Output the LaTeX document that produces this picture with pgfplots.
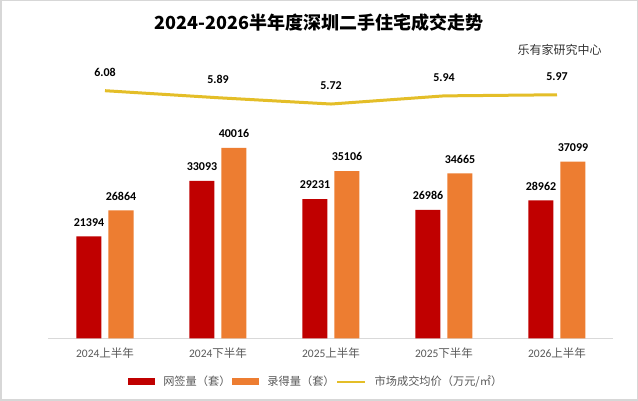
\documentclass[border=0pt]{standalone}
\usepackage{pgfplots}
\pgfplotsset{compat=1.18}
\usepackage{fontspec}
\setmainfont{Carlito}
\newfontfamily\cjk{Noto Sans CJK SC}
\definecolor{cred}{RGB}{192,0,0}
\definecolor{corange}{RGB}{237,125,49}
\definecolor{cgold}{RGB}{228,190,40}
\definecolor{caxis}{RGB}{217,217,217}
\definecolor{ctick}{RGB}{89,89,89}
\definecolor{cframe}{RGB}{215,215,215}
\pgfplotsset{
  barleg/.style={legend image code/.code={\fill[##1] (0pt,-3.5pt) rectangle (27pt,3.5pt);}},
  lineleg/.style={legend image code/.code={\draw[##1] (0pt,0pt) -- (28pt,0pt);}},
}
\begin{document}
\begin{tikzpicture}[x=1pt,y=1pt]
\path[use as bounding box, fill=white] (0,0) rectangle (638,401);
\draw[draw=cframe, line width=1.5pt] (0.75,0.75) rectangle (637.25,400.25);
\node[font=\cjk\bfseries\fontsize{18}{18}\selectfont, anchor=center] at (319,378.3) {2024-2026半年度深圳二手住宅成交走势};
\node[font=\cjk\fontsize{12}{12}\selectfont, text=black!80, anchor=east, inner sep=0pt] at (601.7,351) {乐有家研究中心};

\begin{axis}[
  at={(48.5pt,62.7pt)}, anchor=south west,
  scale only axis, width=565pt, height=278.3pt,
  xmin=-0.5, xmax=4.5, ymin=0, ymax=58466,
  ybar=7pt, bar width=25pt,
  barleg,
  axis x line=bottom, axis y line=none,
  x axis line style={draw=caxis, line width=1pt, -},
  xtick={0,1,2,3,4},
  xticklabels={2024{\cjk 上半年}, 2024{\cjk 下半年}, 2025{\cjk 上半年}, 2025{\cjk 下半年}, 2026{\cjk 上半年}},
  major tick length=0pt,
  xticklabel style={font=\fontsize{11.5}{11.5}\selectfont, text=ctick, anchor=center, yshift=-15pt},
  ytick=\empty,
  nodes near coords,
  point meta=y,
  nodes near coords style={font=\bfseries\fontsize{12}{12}\selectfont, text=black, inner sep=0pt, anchor=south, yshift=10pt,
    /pgf/number format/.cd, 1000 sep={}, assume math mode=true},
  legend style={at={(0.473,-0.156)}, anchor=center, draw=none, fill=none,
    font=\cjk\fontsize{11.2}{11.2}\selectfont, text=ctick, inner sep=0pt,
    nodes={inner sep=1.5pt},
    /tikz/every odd column/.append style={column sep=7pt}},
  legend columns=3,
  legend cell align=left,
]
\addplot[fill=cred, draw=none, bar shift=-16pt] coordinates {(0,21394) (1,33093) (2,29231) (3,26986) (4,28962)};
\addlegendentry{网签量（套）}
\addplot[fill=corange, draw=none, bar shift=16pt] coordinates {(0,26864) (1,40016) (2,35106) (3,34665) (4,37099)};
\addlegendentry{录得量（套）}
\addlegendimage{lineleg, draw=cgold, line width=2pt}
\addlegendentry{市场成交均价（万元/㎡）}
\end{axis}

\begin{axis}[
  at={(48.5pt,62.7pt)}, anchor=south west,
  scale only axis, width=565pt, height=278.3pt,
  xmin=-0.5, xmax=4.5, ymin=-0.61, ymax=6.91,
  axis lines=none, xtick=\empty, ytick=\empty,
]
\addplot[draw=cgold, line width=3pt, mark=none, nodes near coords, point meta=y,
  nodes near coords style={font=\bfseries\fontsize{12}{12}\selectfont, text=black, inner sep=0pt, anchor=south, yshift=13pt,
    /pgf/number format/.cd, fixed, fixed zerofill, precision=2, assume math mode=true}]
  coordinates {(0,6.08) (1,5.89) (2,5.72) (3,5.94) (4,5.97)};
\end{axis}
\end{tikzpicture}
\end{document}
